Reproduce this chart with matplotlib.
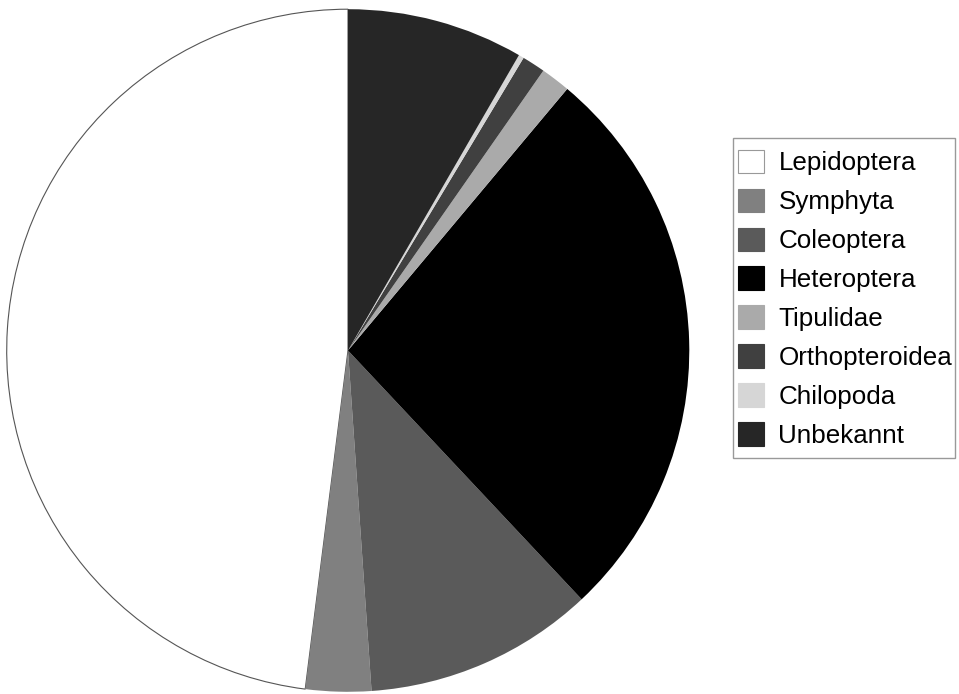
import matplotlib
matplotlib.use("Agg")
import matplotlib.pyplot as plt
from matplotlib.patches import Rectangle

plt.rcParams['font.family'] = ['Liberation Sans', 'DejaVu Sans']

categories = ["Lepidoptera", "Symphyta", "Coleoptera", "Heteroptera",
              "Tipulidae", "Orthopteroidea", "Chilopoda", "Unbekannt"]
values = [48.0, 3.1, 10.9, 26.9, 1.4, 1.1, 0.25, 8.35]
colors = ["#ffffff", "#808080", "#5a5a5a", "#000000",
          "#aaaaaa", "#404040", "#d6d6d6", "#262626"]

fig = plt.figure(figsize=(9.59, 6.94), dpi=100)
W, H = 959, 694
cx, cy, r = 348, 350.5, 343
ax = fig.add_axes([(cx - r) / W, (H - cy - r) / H, 2 * r / W, 2 * r / H])
wedges, _ = ax.pie(values, colors=colors, startangle=90, counterclock=True,
                   radius=1.0, wedgeprops=dict(linewidth=0))
wedges[0].set_edgecolor("#555555")
wedges[0].set_linewidth(0.8)
ax.set_xlim(-1.005, 1.005)
ax.set_ylim(-1.005, 1.005)
ax.set_aspect('equal')
ax.axis('off')

handles = []
for w in wedges:
    handles.append(plt.Rectangle((0, 0), 1, 1, facecolor=w.get_facecolor(),
                                 edgecolor="#999999" if w is wedges[0] else w.get_facecolor(),
                                 linewidth=0.8))
leg = fig.legend(handles, categories, loc='upper left',
                 bbox_to_anchor=(726 / W, 1 - 138 / H),
                 fontsize=18.7, frameon=False,
                 handlelength=1.02, handleheight=1.02, handletextpad=0.55,
                 labelspacing=0.51, borderpad=0.45, borderaxespad=0)

frame = Rectangle((733 / W, 1 - 458 / H), (955 - 733) / W, (458 - 138) / H,
                  transform=fig.transFigure, facecolor='none',
                  edgecolor='#999999', linewidth=1.0)
fig.add_artist(frame)

fig.savefig("out.png", dpi=100)
